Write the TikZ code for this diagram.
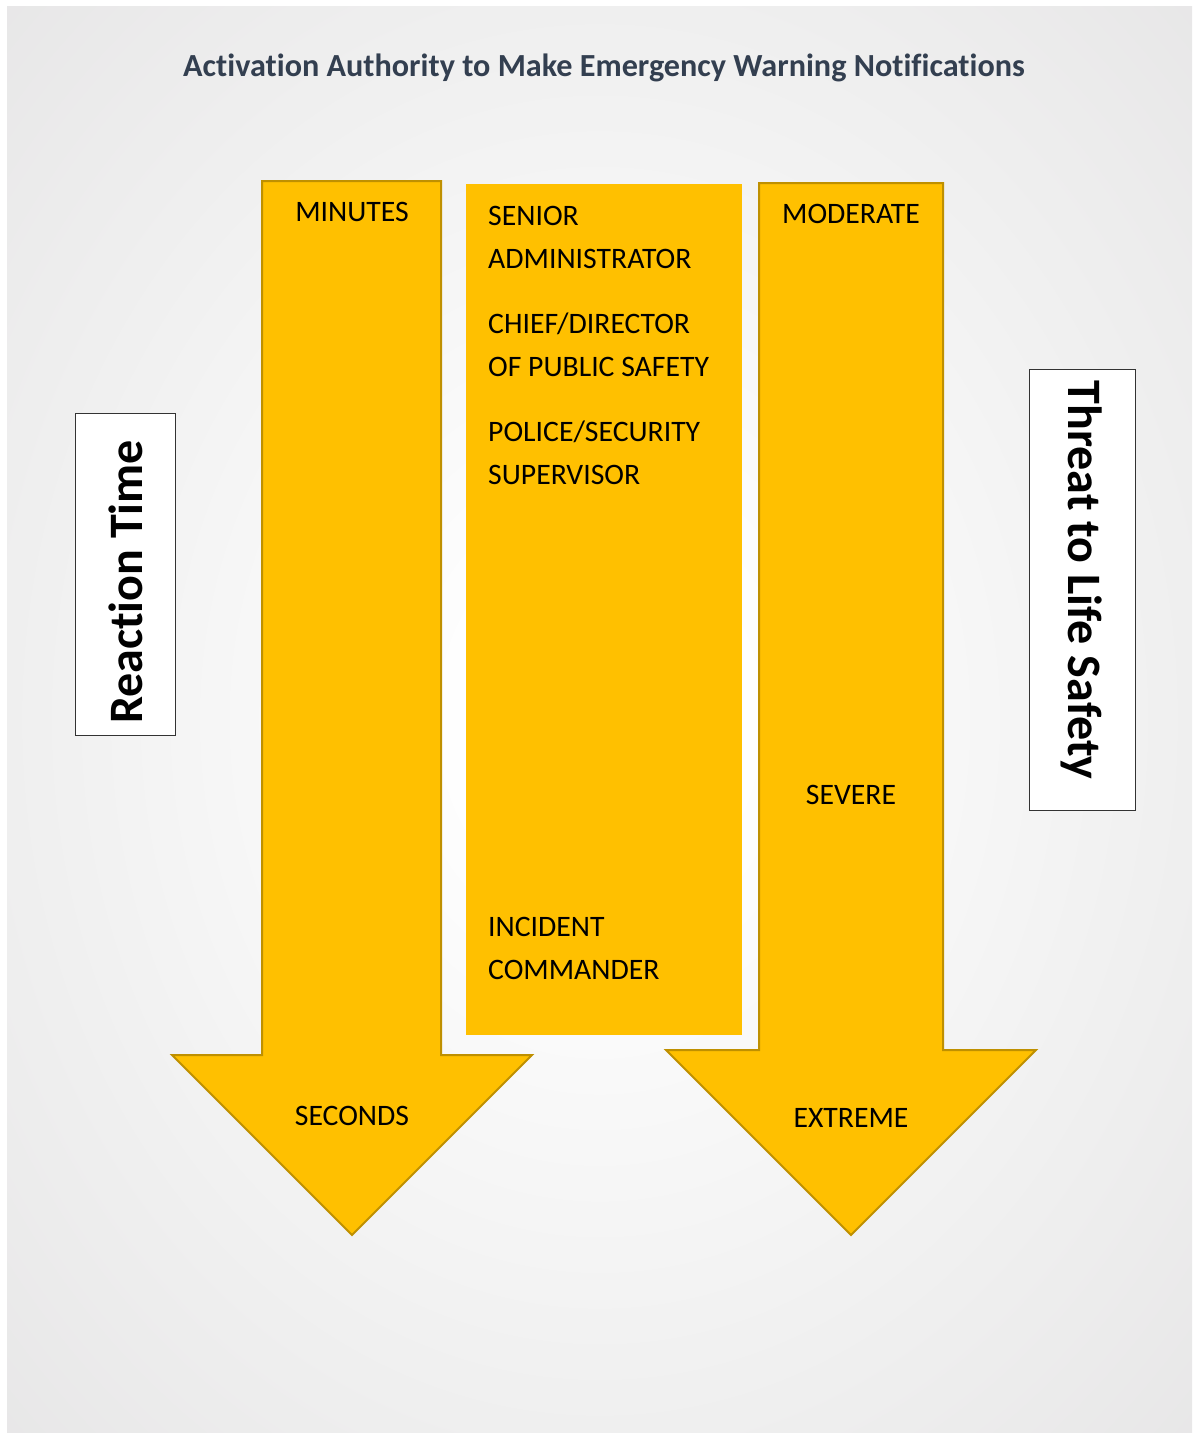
\documentclass[tikz,border=0pt]{standalone}
\usepackage{fontspec}
\setmainfont{Carlito}[Ligatures=NoCommon]
\definecolor{gold}{HTML}{FFC000}
\definecolor{golddark}{HTML}{BF9000}
\definecolor{titleblue}{HTML}{333F50}
\definecolor{bgedge}{HTML}{DAD9DA}
\definecolor{bgmid}{HTML}{E3E2E3}
\definecolor{bginner}{HTML}{EFEFEF}
\pgfdeclareradialshading{bgshade}{\pgfpoint{0bp}{0bp}}{color(0bp)=(white); color(5bp)=(white); color(25bp)=(bginner); color(42bp)=(bgmid); color(71bp)=(bgedge)}
\tikzset{
  arrowshape/.style={fill=gold, draw=golddark, line width=2pt, line join=miter},
  lbl/.style={font=\fontsize{29.7}{34}\selectfont, text=black, inner sep=0pt},
  sidebox/.style={draw=black!80, line width=1pt, fill=white, inner sep=0pt, font=\fontsize{48}{56}\selectfont\bfseries},
}
\begin{document}
\begin{tikzpicture}[x=1pt,y=-1pt]
\useasboundingbox (0,0) rectangle (1192,1433);
\fill[white] (0,0) rectangle (1192,1433);
\shade[shading=bgshade] (7,6) rectangle (1192,1433);
% title
\node[font=\fontsize{32.2}{38}\selectfont\bfseries, text=titleblue, anchor=base, inner sep=0pt] (title) at (604,76) {Activation Authority to Make Emergency Warning Notifications};
% left arrow
\draw[arrowshape] (262,181) -- (441,181) -- (441,1055) -- (532,1055) -- (352,1235) -- (172,1055) -- (262,1055) -- cycle;
% right arrow
\draw[arrowshape] (759,183) -- (943,183) -- (943,1050) -- (1036,1050) -- (851,1235) -- (666,1050) -- (759,1050) -- cycle;
% center box
\fill[gold] (466,184) rectangle (742,1035);
% arrow labels
\node[lbl, anchor=base] (minutes) at (352,221) {MINUTES};
\node[lbl, anchor=base] (seconds) at (352,1125) {SECONDS};
\node[lbl, anchor=base] (moderate) at (851,223) {MODERATE};
\node[lbl, anchor=base] (severe) at (851,804) {SEVERE};
\node[lbl, anchor=base] (extreme) at (851,1127) {EXTREME};
% center labels
\node[lbl, anchor=base west] (c1) at (488,225) {SENIOR};
\node[lbl, anchor=base west] (c2) at (488,268) {ADMINISTRATOR};
\node[lbl, anchor=base west] (c3) at (488,333) {CHIEF/DIRECTOR};
\node[lbl, anchor=base west] (c4) at (488,376) {OF PUBLIC SAFETY};
\node[lbl, anchor=base west] (c5) at (488,441) {POLICE/SECURITY};
\node[lbl, anchor=base west] (c6) at (488,484) {SUPERVISOR};
\node[lbl, anchor=base west] (c7) at (488,936) {INCIDENT};
\node[lbl, anchor=base west] (c8) at (488,979) {COMMANDER};
% side boxes
\node[draw=black!80, line width=1pt, fill=white, minimum width=100pt, minimum height=322pt, inner sep=0pt] (reactbox) at (125,574) {};
\node[sidebox, draw=none, fill=none, rotate=90] (react) at (126,582) {Reaction Time};
\node[draw=black!80, line width=1pt, fill=white, minimum width=106pt, minimum height=441pt, inner sep=0pt] (threatbox) at (1082,589.5) {};
\node[sidebox, draw=none, fill=none, rotate=-90] (threat) at (1082,580) {Threat to Life Safety};
\end{tikzpicture}
\end{document}
